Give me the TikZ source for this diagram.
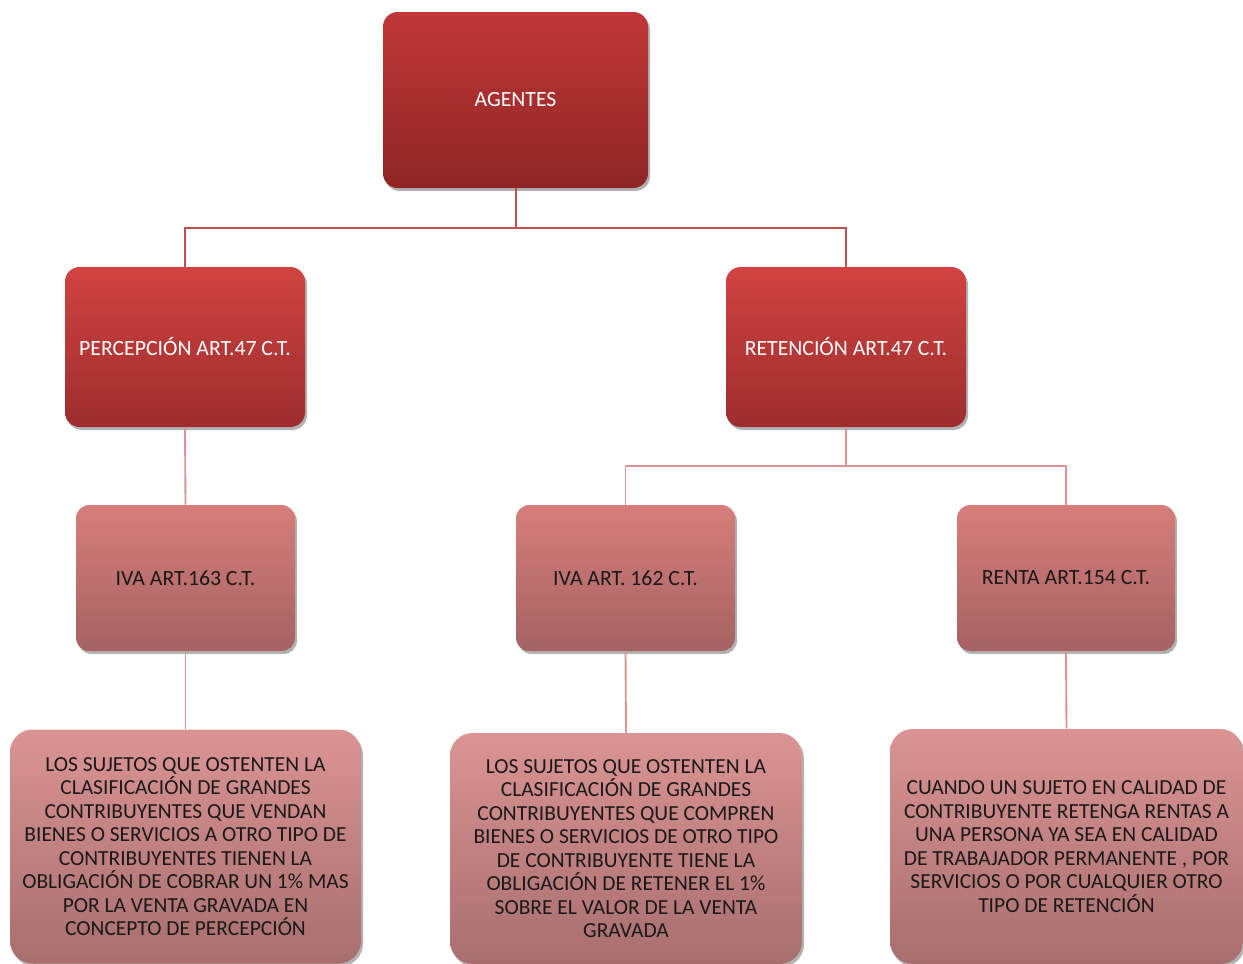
\documentclass[tikz,border=0pt]{standalone}
\usepackage{fontspec}
\setmainfont{Carlito}
\usetikzlibrary{shadows}
\definecolor{lineA}{RGB}{192,80,77}
\definecolor{lineB}{RGB}{217,149,148}
\definecolor{topA}{RGB}{192,56,55}
\definecolor{botA}{RGB}{142,37,37}
\definecolor{topB}{RGB}{209,67,64}
\definecolor{botB}{RGB}{157,45,45}
\definecolor{topC}{RGB}{215,126,123}
\definecolor{botC}{RGB}{164,98,98}
\definecolor{topD}{RGB}{219,148,147}
\definecolor{botD}{RGB}{168,110,110}
\tikzset{
  box/.style={rectangle, inner sep=0pt, align=center,
    drop shadow={shadow xshift=1.5pt, shadow yshift=-2.2pt, opacity=0.3, fill=black}},
  rootbox/.style={box, rounded corners=11pt, top color=topA, bottom color=botA,
    text=white, font=\fontsize{16.3}{19}\selectfont},
  mainbox/.style={box, rounded corners=11pt, top color=topB, bottom color=botB,
    text=white, font=\fontsize{16.3}{19}\selectfont},
  subbox/.style={box, rounded corners=10pt, top color=topC, bottom color=botC,
    text=black!90, font=\fontsize{16.3}{19}\selectfont},
  notebox/.style={box, rounded corners=17pt, top color=topD, bottom color=botD,
    text=black!90, font=\fontsize{16.1}{17.6}\selectfont},
  linkA/.style={draw=lineA, line width=1.5pt},
  linkB/.style={draw=lineB, line width=1.4pt}
}
\begin{document}
\begin{tikzpicture}[x=0.75pt, y=-0.75pt]
\useasboundingbox (0,0) rectangle (1243,964);

% tree nodes
\node[rootbox, minimum width=198.75pt, minimum height=132pt] (agentes) at (515.5,100) {AGENTES};
\node[mainbox, minimum width=180pt, minimum height=120pt] (perc) at (185,347) {PERCEPCIÓN ART.47 C.T.};
\node[mainbox, minimum width=180pt, minimum height=120pt] (ret) at (846,347) {RETENCIÓN ART.47 C.T.};
\node[subbox, minimum width=164.25pt, minimum height=109.5pt] (iva163) at (185.5,578) {IVA ART.163 C.T.};
\node[subbox, minimum width=164.25pt, minimum height=109.5pt] (iva162) at (625.5,578) {IVA ART. 162 C.T.};
\node[subbox, minimum width=163.5pt, minimum height=109.5pt] (renta) at (1066,578) {RENTA ART.154 C.T.};

\node[notebox, minimum width=263.25pt, minimum height=175.5pt] (d1) at (185.5,846.5)
  {LOS SUJETOS QUE OSTENTEN LA\\CLASIFICACIÓN DE GRANDES\\CONTRIBUYENTES QUE VENDAN\\BIENES O SERVICIOS A OTRO TIPO DE\\CONTRIBUYENTES TIENEN LA\\OBLIGACIÓN DE COBRAR UN 1\% MAS\\POR LA VENTA GRAVADA EN\\CONCEPTO DE PERCEPCIÓN};
\node[notebox, minimum width=264pt, minimum height=173.25pt] (d2) at (626,848.5)
  {LOS SUJETOS QUE OSTENTEN LA\\CLASIFICACIÓN DE GRANDES\\CONTRIBUYENTES QUE COMPREN\\BIENES O SERVICIOS DE OTRO TIPO\\DE CONTRIBUYENTE TIENE LA\\OBLIGACIÓN DE RETENER EL 1\%\\SOBRE EL VALOR DE LA VENTA\\GRAVADA};
\node[notebox, minimum width=264.75pt, minimum height=176.25pt] (d3) at (1066.5,846.5)
  {CUANDO UN SUJETO EN CALIDAD DE\\CONTRIBUYENTE RETENGA RENTAS A\\UNA PERSONA YA SEA EN CALIDAD\\DE TRABAJADOR PERMANENTE , POR\\SERVICIOS O POR CUALQUIER OTRO\\TIPO DE RETENCIÓN};

% connectors
\draw[linkA] (agentes.south) -- ++(0,39.5) -| (perc.north);
\draw[linkA] (agentes.south) -- ++(0,39.5) -| (ret.north);
\draw[linkB] (perc.south) -- (iva163.north);
\draw[linkB] (ret.south) -- ++(0,39) -| (iva162.north);
\draw[linkB] (ret.south) -- ++(0,39) -| (renta.north);
\draw[linkB] (iva163.south) -- (d1.north);
\draw[linkB] (iva162.south) -- (d2.north);
\draw[linkB] (renta.south) -- (d3.north);
\end{tikzpicture}
\end{document}
